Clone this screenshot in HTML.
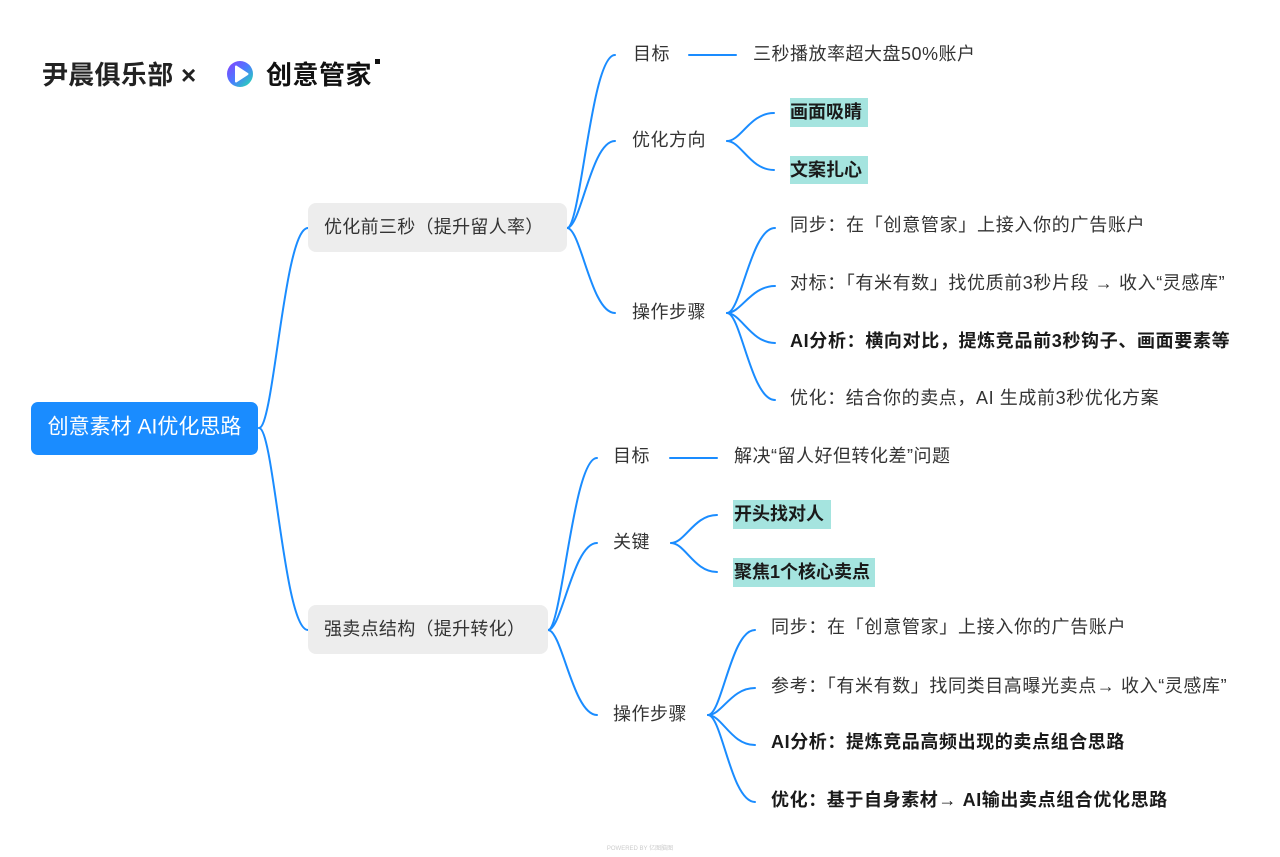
<!DOCTYPE html>
<html><head><meta charset="utf-8"><style>
html,body{margin:0;padding:0;background:#fff;}
svg{display:block;}
text{font-family:"Liberation Sans","Noto Sans CJK SC",sans-serif;}
</style></head><body>
<svg width="1280" height="857" viewBox="0 0 1280 857" xmlns="http://www.w3.org/2000/svg">
<defs>
<linearGradient id="lg" x1="0" y1="0" x2="1" y2="1">
<stop offset="0" stop-color="#8a3dff"/><stop offset="0.5" stop-color="#4a7bff"/><stop offset="1" stop-color="#20e6a8"/>
</linearGradient>
</defs>
<!-- logo -->
<text x="42" y="75" font-size="26" font-weight="bold" fill="#222" dominant-baseline="central" letter-spacing="0.3">尹晨俱乐部 ×</text>
<g>
<circle cx="240" cy="74" r="13" fill="url(#lg)"/>
<path d="M236 66.5 L247.5 74 L236 81.5 Z" fill="#fff" stroke="#fff" stroke-width="2" stroke-linejoin="round"/>
</g>
<text x="266" y="75" font-size="26" font-weight="bold" fill="#111" dominant-baseline="central" letter-spacing="0.5">创意管家</text>
<rect x="375" y="59" width="5" height="5" fill="#111"/>

<g fill="none" stroke="#1a8cff" stroke-width="2" stroke-linecap="round">
<path d="M259 428 C274 428 284 228 308 228"/>
<path d="M259 428 C274 428 284 630 308 630"/>
<path d="M567 228 C581 228 591 55 615 55"/>
<path d="M567 228 C581 228 591 141 615 141"/>
<path d="M567 228 C581 228 591 313 615 313"/>
<line x1="689" y1="55" x2="736" y2="55"/>
<path d="M727 141 C741 141 750 113 774 113"/>
<path d="M727 141 C741 141 750 170 774 170"/>
<path d="M727 313 C741 313 751 228 775 228"/>
<path d="M727 313 C741 313 751 286 775 286"/>
<path d="M727 313 C741 313 751 343 775 343"/>
<path d="M727 313 C741 313 751 400 775 400"/>
<path d="M548 630 C562 630 573 458 597 458"/>
<path d="M548 630 C562 630 573 543 597 543"/>
<path d="M548 630 C562 630 573 715 597 715"/>
<line x1="670" y1="458" x2="717" y2="458"/>
<path d="M671 543 C685 543 694 515 717 515"/>
<path d="M671 543 C685 543 694 572 717 572"/>
<path d="M708 715 C722 715 731 630 755 630"/>
<path d="M708 715 C722 715 731 688 755 688"/>
<path d="M708 715 C722 715 731 745 755 745"/>
<path d="M708 715 C722 715 731 802 755 802"/>
</g>

<rect x="31" y="402" width="227" height="53" rx="7" fill="#1a8cff"/>
<text x="144.5" y="427" font-size="21" fill="#fff" text-anchor="middle" dominant-baseline="central">创意素材 AI优化思路</text>

<rect x="308" y="203" width="259" height="49" rx="8" fill="#ededed"/>
<text x="324" y="227" font-size="18" fill="#333" dominant-baseline="central" letter-spacing="0.3">优化前三秒（提升留人率）</text>
<rect x="308" y="605" width="240" height="49" rx="8" fill="#ededed"/>
<text x="324" y="629" font-size="18" fill="#333" dominant-baseline="central" letter-spacing="0.3">强卖点结构（提升转化）</text>

<g font-size="18" fill="#333" dominant-baseline="central" letter-spacing="0.5">
<text x="633" y="54">目标</text>
<text x="753" y="54">三秒播放率超大盘50%账户</text>
<text x="632" y="140">优化方向</text>
<text x="632" y="312">操作步骤</text>
<text x="790" y="225" letter-spacing="0.7">同步：在「创意管家」上接入你的广告账户</text>
<text x="790" y="283" letter-spacing="0.6">对标：「有米有数」找优质前3秒片段 → 收入“灵感库”</text>
<text x="790" y="398" letter-spacing="0.6">优化：结合你的卖点，AI 生成前3秒优化方案</text>
<text x="613" y="456">目标</text>
<text x="734" y="456">解决“留人好但转化差”问题</text>
<text x="613" y="542">关键</text>
<text x="613" y="714">操作步骤</text>
<text x="771" y="627" letter-spacing="0.7">同步：在「创意管家」上接入你的广告账户</text>
<text x="771" y="686" letter-spacing="0.6">参考：「有米有数」找同类目高曝光卖点→ 收入“灵感库”</text>
</g>

<rect x="790" y="98" width="78" height="29" fill="#a5e4df"/>
<rect x="790" y="156" width="78" height="28" fill="#a5e4df"/>
<rect x="733" y="500" width="98" height="29" fill="#a5e4df"/>
<rect x="733" y="558" width="142" height="29" fill="#a5e4df"/>
<g font-size="18" font-weight="bold" fill="#1a1a1a" dominant-baseline="central">
<text x="790" y="112">画面吸睛</text>
<text x="790" y="170">文案扎心</text>
<text x="734" y="514">开头找对人</text>
<text x="734" y="572">聚焦1个核心卖点</text>
<text x="790" y="341" letter-spacing="0.65">AI分析：横向对比，提炼竞品前3秒钩子、画面要素等</text>
<text x="771" y="742" letter-spacing="0.6">AI分析：提炼竞品高频出现的卖点组合思路</text>
<text x="771" y="800" letter-spacing="0.6">优化：基于自身素材→ AI输出卖点组合优化思路</text>
</g>

<text x="640" y="849" font-size="6" fill="#ccc" text-anchor="middle" dominant-baseline="central">POWERED BY 亿图脑图</text>
</svg>
</body></html>
